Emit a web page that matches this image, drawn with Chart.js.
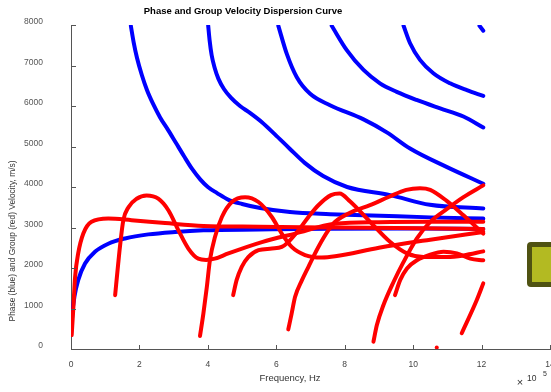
<!DOCTYPE html>
<html>
<head>
<meta charset="utf-8">
<script src="https://cdn.jsdelivr.net/npm/chart.js@4.4.0/dist/chart.umd.min.js"></script>
<style>
    html, body { margin: 0; padding: 0; background: #fff; }
    #wrap { position: relative; width: 551px; height: 392px; overflow: hidden; }
    #marker {
        position: absolute; left: 527px; top: 242px; width: 30px; height: 35px;
        border: 5px solid #4f5212; background: #b3ba22; border-radius: 4px;
    }
</style>
</head>
<body>
<div id="wrap">
    <canvas id="chart" width="551" height="392"></canvas>
    <div id="marker"></div>
</div>
<script>
// frequency in units of 1e5 Hz, velocity in m/s
const xTicks = [0, 2, 4, 6, 8, 10, 12, 14];
const yTicks = [0, 1000, 2000, 3000, 4000, 5000, 6000, 7000, 8000];

// phase velocity (blue)
const phase0 = [[0.0,345],[0.04,880],[0.1,1290],[0.21,1700],[0.41,2110],[0.7,2400],[1.09,2600],[1.58,2730],[2.26,2830],[3.04,2890],[3.87,2930],[5.5,2950],[7.5,2970],[10,2975],[12.05,2965]];
const phase1 = [[1.75,7975],[1.83,7580],[1.93,7185],[2.07,6765],[2.22,6395],[2.4,6050],[2.6,5725],[2.84,5405],[3.07,5085],[3.3,4765],[3.54,4445],[3.77,4195],[4.0,4000],[4.27,3850],[4.59,3690],[5.0,3580],[5.53,3480],[6.4,3380],[7.57,3330],[9.04,3290],[10.5,3250],[12.05,3220]];
const phase2 = [[4.01,7980],[4.05,7630],[4.11,7260],[4.2,6940],[4.31,6670],[4.47,6420],[4.68,6200],[4.94,6000],[5.23,5830],[5.58,5600],[5.96,5300],[6.4,4940],[6.84,4590],[7.37,4270],[8.07,4000],[9.33,3800],[10.49,3560],[12.05,3470]];
const phase3 = [[6.06,7980],[6.31,7280],[6.6,6710],[6.99,6300],[7.57,6020],[8.55,5670],[9.23,5350],[9.91,4950],[10.99,4490],[12.05,4080]];
const phase4 = [[7.62,7980],[8.06,7380],[8.55,6890],[9.03,6560],[9.52,6350],[10.1,6150],[10.79,5940],[11.47,5740],[12.05,5470]];
const phase5 = [[9.72,7980],[9.91,7550],[10.2,7140],[10.59,6810],[11.08,6560],[11.57,6390],[12.05,6250]];
const phase6 = [[11.94,7980],[12.05,7860]];

// group velocity (red)
const group0 = [[0.02,345],[0.07,1040],[0.12,1780],[0.21,2360],[0.36,2850],[0.6,3140],[1.09,3220],[1.77,3180],[2.75,3110],[3.87,3040],[5.5,3020],[7.7,3000],[9.5,2985],[12.05,2965]];
const group1 = [[1.29,1330],[1.38,2110],[1.43,2520],[1.53,3180],[1.68,3500],[1.92,3710],[2.21,3790],[2.55,3710],[2.85,3420],[3.14,2930],[3.43,2480],[3.72,2230],[3.95,2200],[4.2,2230],[4.6,2360],[5.58,2640],[6.55,2850],[7.72,3090],[9.0,3130],[10.5,3140],[12.05,3140]];
const group2 = [[3.77,320],[3.87,880],[3.97,1530],[4.06,2190],[4.21,2770],[4.41,3260],[4.7,3630],[5.09,3750],[5.48,3630],[5.87,3260],[6.16,2850],[6.45,2520],[6.84,2320],[7.33,2260],[7.72,2290],[9.0,2500],[10.5,2700],[12.05,2890]];
const group3 = [[4.74,1330],[4.84,1700],[4.99,2030],[5.18,2270],[5.48,2440],[5.87,2480],[6.16,2520],[6.35,2640],[6.65,2930],[6.94,3260],[7.23,3550],[7.6,3800],[7.85,3840],[8.16,3640],[8.74,3140],[9.33,2640],[9.82,2360],[10.3,2270],[10.99,2270],[11.47,2310],[12.05,2410]];
const group4 = [[6.35,485],[6.45,880],[6.55,1290],[6.75,1700],[6.94,2030],[7.23,2520],[7.52,2930],[7.72,3140],[8.2,3380],[8.74,3550],[9.3,3760],[9.8,3930],[10.2,3970],[10.5,3930],[10.99,3650],[11.47,3300],[12.05,2850]];
const group5 = [[8.84,180],[8.94,590],[9.13,1080],[9.43,1660],[9.72,2150],[10.11,2730],[10.5,3140],[10.99,3460],[11.47,3750],[12.05,4040]];
const group6 = [[9.47,1330],[9.62,1700],[9.82,1990],[10.11,2190],[10.5,2330],[10.89,2400],[11.28,2360],[11.67,2230],[12.05,2190]];
const group7 = [[10.69,40]];
const group8 = [[11.42,390],[11.86,1210],[12.05,1620]];

const phaseCurves = [phase0, phase1, phase2, phase3, phase4, phase5, phase6];
const groupCurves = [group0, group1, group2, group3, group4, group5, group6, group7, group8];

const FONT = '"Liberation Sans", Arial, sans-serif';

function curveDataset(curve, color, order) {
    return {
        data: curve.map(p => ({ x: p[0], y: p[1] })),
        showLine: true,
        borderColor: color,
        backgroundColor: color,
        borderWidth: 4,
        borderCapStyle: 'round',
        cubicInterpolationMode: 'monotone',
        pointRadius: curve.length === 1 ? 2 : 0,
        pointBorderWidth: 0,
        order: order
    };
}

// titles, inward tick marks, exponent label
const decorations = {
    id: 'decorations',
    afterDraw(chart) {
        const { ctx, scales: { x, y } } = chart;
        ctx.save();
        ctx.strokeStyle = '#555';
        ctx.lineWidth = 1;
        ctx.beginPath();
        xTicks.forEach(v => {
            const px = Math.round(x.getPixelForValue(v)) + 0.5;
            ctx.moveTo(px, y.bottom);
            ctx.lineTo(px, y.bottom - 4);
        });
        yTicks.forEach(v => {
            const py = Math.round(y.getPixelForValue(v)) + 0.5;
            ctx.moveTo(x.left, py);
            ctx.lineTo(x.left + 5, py);
        });
        ctx.stroke();

        ctx.textAlign = 'center';
        ctx.textBaseline = 'middle';
        ctx.fillStyle = '#000';
        ctx.font = 'bold 9.5px ' + FONT;
        ctx.fillText('Phase and Group Velocity Dispersion Curve', 243, 11);

        ctx.fillStyle = '#333';
        ctx.font = '9.5px ' + FONT;
        ctx.fillText('Frequency, Hz', 290, 378);

        ctx.save();
        ctx.translate(13, 241);
        ctx.rotate(-Math.PI / 2);
        ctx.font = '8.4px ' + FONT;
        ctx.fillText('Phase (blue) and Group (red) Velocity, m/s)', 0, 0);
        ctx.restore();

        ctx.font = '11px ' + FONT;
        ctx.fillText('\u00d7', 520, 383);
        ctx.textAlign = 'left';
        ctx.font = '8.5px ' + FONT;
        ctx.fillText('10', 527, 379);
        ctx.font = '7px ' + FONT;
        ctx.fillText('5', 543, 374);
        ctx.restore();
    }
};

new Chart(document.getElementById('chart').getContext('2d'), {
    type: 'scatter',
    data: {
        datasets: [
            ...groupCurves.map(c => curveDataset(c, '#ff0000', 0)),
            ...phaseCurves.map(c => curveDataset(c, '#0000ff', 1))
        ]
    },
    options: {
        responsive: false,
        animation: false,
        devicePixelRatio: 1,
        layout: { autoPadding: false, padding: { top: 25, right: 1, left: 0, bottom: 0 } },
        plugins: {
            legend: { display: false },
            tooltip: { enabled: false }
        },
        scales: {
            x: {
                type: 'linear',
                min: 0,
                max: 14,
                afterBuildTicks: s => { s.ticks = xTicks.map(v => ({ value: v })); },
                afterFit: s => { s.height = 43; s.paddingLeft = 0; s.paddingRight = 0; },
                grid: { display: false },
                border: { display: true, color: '#555', width: 1 },
                ticks: {
                    font: { family: FONT, size: 8.5 },
                    color: '#444',
                    padding: 3,
                    maxRotation: 0,
                    autoSkip: false,
                    callback: v => String(v)
                }
            },
            y: {
                type: 'linear',
                min: 0,
                max: 8000,
                afterBuildTicks: s => { s.ticks = yTicks.map(v => ({ value: v })); },
                afterFit: s => { s.width = 71; s.paddingTop = 0; s.paddingBottom = 0; },
                grid: { display: false },
                border: { display: true, color: '#555', width: 1 },
                ticks: {
                    font: { family: FONT, size: 8.5 },
                    color: '#555',
                    padding: 20,
                    labelOffset: -3,
                    autoSkip: false,
                    callback: v => String(v)
                }
            }
        }
    },
    plugins: [decorations]
});
</script>
</body>
</html>
